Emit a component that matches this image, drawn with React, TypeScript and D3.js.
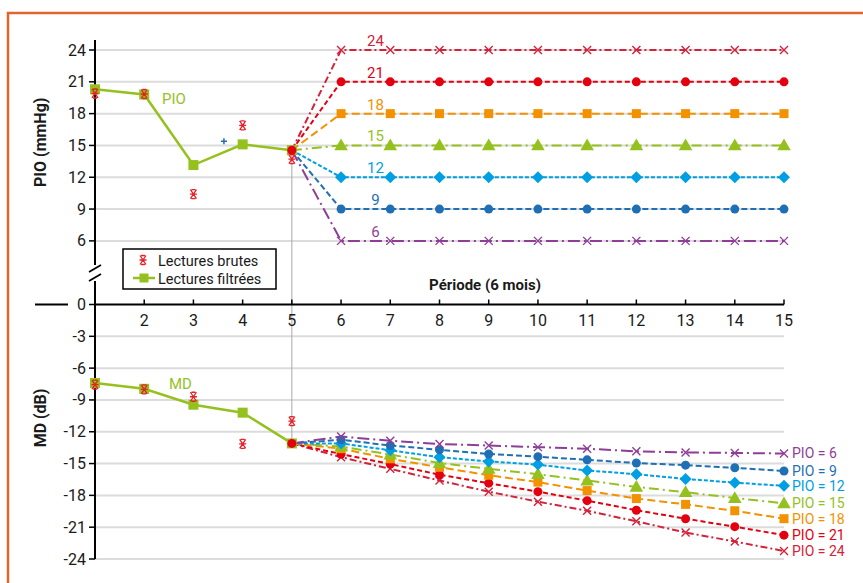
import * as d3 from "d3";

// Périodes et valeurs
const periods = [1, 2, 3, 4, 5];
const futurePeriods = [6, 7, 8, 9, 10, 11, 12, 13, 14, 15];

const pioFiltered = [20.3, 19.8, 13.15, 15.1, 14.55];
const pioRaw = [19.9, 19.85, 10.4, 16.9, 13.7];
const mdFiltered = [-7.4, -7.95, -9.45, -10.2, -13.1];
const mdRaw = [-7.55, -8.0, -8.7, -13.15, -11.0];

const pioTicks = [24, 21, 18, 15, 12, 9, 6];
const mdTicks = [0, -3, -6, -9, -12, -15, -18, -21, -24];
const xTicks = [2, 3, 4, 5, 6, 7, 8, 9, 10, 11, 12, 13, 14, 15];

// Projections : PIO cible -> MD prévue aux périodes 6..15
const targets = [24, 21, 18, 15, 12, 9, 6];
const md24 = [-14.4, -15.5, -16.6, -17.65, -18.6, -19.45, -20.45, -21.5, -22.35, -23.25];
const md21 = [-14.1, -15.05, -16.05, -16.85, -17.65, -18.5, -19.4, -20.2, -20.95, -21.75];
const md18 = [-13.6, -14.55, -15.35, -16.1, -16.75, -17.55, -18.3, -18.85, -19.45, -20.2];
const md15 = [-13.4, -14.15, -14.95, -15.5, -16.0, -16.6, -17.2, -17.7, -18.25, -18.75];
const md12 = [-13.1, -13.75, -14.4, -14.8, -15.1, -15.65, -16.0, -16.45, -16.8, -17.1];
const md9 = [-12.75, -13.3, -13.7, -14.1, -14.35, -14.65, -14.95, -15.15, -15.4, -15.7];
const md6 = [-12.45, -12.85, -13.15, -13.3, -13.45, -13.6, -13.85, -13.95, -14.0, -14.05];
const mdSeries = [md24, md21, md18, md15, md12, md9, md6];

const colors = ["#d3223a", "#e3000f", "#f39200", "#95c11f", "#009fe3", "#1f6fb5", "#8f3e97"];
const dashes = ["7,3,2,3", "5,3", "8,4", "10,4,2,4", "4,2", "6,3", "12,4,2,4"];
const markers = ["x", "circle", "square", "triangle", "diamond", "circle", "x"];

const green = "#95c11f";
const rawRed = "#e8202a";
const font = "Roboto, 'DejaVu Sans', sans-serif";

const x = d3.scaleLinear().domain([1, 15]).range([95, 784]);
const y = d3.scaleLinear().domain([-24, 24]).range([559, 50]);

const Marker = ({ kind, cx, cy, color }: { kind: string; cx: number; cy: number; color: string }) => {
  if (kind === "circle") return <circle cx={cx} cy={cy} r={4.5} fill={color} />;
  if (kind === "square") return <rect x={cx - 4.5} y={cy - 4.5} width={9} height={9} fill={color} />;
  if (kind === "triangle") {
    const p = d3.symbol(d3.symbolTriangle, 80)();
    return <path d={p || ""} transform={`translate(${cx},${cy + 1})`} fill={color} />;
  }
  if (kind === "diamond") {
    return <path d={`M${cx},${cy - 6}L${cx + 6},${cy}L${cx},${cy + 6}L${cx - 6},${cy}Z`} fill={color} />;
  }
  return (
    <path
      d={`M${cx - 4},${cy - 4}L${cx + 4},${cy + 4}M${cx + 4},${cy - 4}L${cx - 4},${cy + 4}`}
      stroke={color}
      strokeWidth={1.4}
      fill="none"
    />
  );
};

const RawMark = ({ cx, cy }: { cx: number; cy: number }) => (
  <path
    d={`M${cx - 3},${cy - 4.5}L${cx + 3},${cy + 4.5}M${cx + 3},${cy - 4.5}L${cx - 3},${cy + 4.5}M${cx - 2},${cy - 4.5}L${cx + 2},${cy - 4.5}M${cx - 2},${cy + 4.5}L${cx + 2},${cy + 4.5}M${cx - 3.5},${cy}L${cx + 3.5},${cy}`}
    stroke={rawRed}
    strokeWidth={1.3}
    fill="none"
  />
);

export default function App() {
  const line = d3
    .line<[number, number]>()
    .x((d) => x(d[0]))
    .y((d) => y(d[1]));

  const pioF: [number, number][] = periods.map((p, i) => [p, pioFiltered[i]]);
  const mdF: [number, number][] = periods.map((p, i) => [p, mdFiltered[i]]);
  const lastPio = pioFiltered[pioFiltered.length - 1];
  const lastMd = mdFiltered[mdFiltered.length - 1];

  const topProj = targets.map((t) => [[5, lastPio], ...futurePeriods.map((p) => [p, t])] as [number, number][]);
  const botProj = mdSeries.map((s) => [[5, lastMd], ...futurePeriods.map((p, i) => [p, s[i]])] as [number, number][]);

  return (
    <svg width={863} height={583} style={{ position: "absolute", left: 0, top: 0, background: "#fff" }} fontFamily={font}>
      <rect x={8} y={13} width={900} height={620} fill="none" stroke="#e0662d" strokeWidth={2.5} />

      {/* grille */}
      {[...pioTicks, ...mdTicks.filter((t) => t !== 0)].map((t) => (
        <line key={"g" + t} x1={x(1)} x2={x(15)} y1={y(t)} y2={y(t)} stroke="#dcdcdc" strokeWidth={2} />
      ))}

      {/* trait vertical période 5 */}
      <line x1={x(5)} x2={x(5)} y1={y(lastPio)} y2={y(lastMd)} stroke="#a8a8a8" strokeWidth={1} />

      {/* axes */}
      <line x1={x(1)} x2={x(1)} y1={40} y2={265} stroke="#000" strokeWidth={2} />
      <line x1={x(1)} x2={x(1)} y1={281} y2={y(-24)} stroke="#000" strokeWidth={2} />
      <line x1={89} x2={101} y1={272} y2={265} stroke="#000" strokeWidth={1.8} />
      <line x1={89} x2={101} y1={281} y2={274} stroke="#000" strokeWidth={1.8} />
      <line x1={x(1)} x2={x(15)} y1={y(0)} y2={y(0)} stroke="#000" strokeWidth={2} />
      <line x1={35} x2={68} y1={y(0)} y2={y(0)} stroke="#000" strokeWidth={2} />

      {[...pioTicks, ...mdTicks].map((t) => (
        <g key={"yt" + t}>
          <line x1={x(1) - 6} x2={x(1)} y1={y(t)} y2={y(t)} stroke="#000" strokeWidth={1.5} />
          <text x={x(1) - 9} y={y(t) + 5.5} textAnchor="end" fontSize={16} fill="#1a1a1a">
            {t}
          </text>
        </g>
      ))}
      {xTicks.map((t) => (
        <g key={"xt" + t}>
          <line x1={x(t)} x2={x(t)} y1={y(0) - 5} y2={y(0)} stroke="#000" strokeWidth={1.5} />
          <text x={x(t)} y={y(0) + 21} textAnchor="middle" fontSize={16} fill="#1a1a1a">
            {t}
          </text>
        </g>
      ))}

      <text transform={`translate(46,${y(15.3)}) rotate(-90)`} textAnchor="middle" fontSize={16} fontWeight="bold" fill="#1a1a1a">
        PIO (mmHg)
      </text>
      <text transform={`translate(46,${y(-10.7)}) rotate(-90)`} textAnchor="middle" fontSize={16} fontWeight="bold" fill="#1a1a1a">
        MD (dB)
      </text>
      <text x={485} y={290} textAnchor="middle" fontSize={15} fontWeight="bold" fill="#1a1a1a">
        Période (6 mois)
      </text>

      {/* projections */}
      {[topProj, botProj].map((group, gi) =>
        group.map((pts, i) => (
          <path
            key={`p${gi}-${i}`}
            d={line(pts) || ""}
            fill="none"
            stroke={colors[i]}
            strokeWidth={2}
            strokeDasharray={dashes[i]}
          />
        ))
      )}
      {[topProj, botProj].map((group, gi) =>
        group.map((pts, i) =>
          pts.slice(1).map((d) => (
            <Marker key={`m${gi}-${i}-${d[0]}`} kind={markers[i]} cx={x(d[0])} cy={y(d[1])} color={colors[i]} />
          ))
        )
      )}

      {/* étiquettes des cibles */}
      {targets.map((t, i) => (
        <text key={"tl" + t} x={x(6.7)} y={y(t) - 4} textAnchor="middle" fontSize={15} fill={colors[i]}>
          {t}
        </text>
      ))}
      {botProj.map((pts, i) => (
        <text key={"bl" + i} x={792} y={y(pts[pts.length - 1][1]) + 5} fontSize={14} fill={colors[i]}>
          {`PIO = ${targets[i]}`}
        </text>
      ))}

      {/* lectures filtrées */}
      {[pioF, mdF].map((pts, gi) => (
        <g key={"f" + gi}>
          <path d={line(pts) || ""} fill="none" stroke={green} strokeWidth={2.5} />
          {pts.map((d) => (
            <rect key={d[0]} x={x(d[0]) - 5} y={y(d[1]) - 5} width={10} height={10} fill={green} />
          ))}
        </g>
      ))}

      {/* lectures brutes */}
      {periods.map((p, i) => (
        <g key={"r" + p}>
          <RawMark cx={x(p)} cy={y(pioRaw[i])} />
          <RawMark cx={x(p)} cy={y(mdRaw[i])} />
        </g>
      ))}
      <path
        d={`M${x(3.62) - 3},${y(15.4)}H${x(3.62) + 3}M${x(3.62)},${y(15.4) - 3}V${y(15.4) + 3}`}
        stroke="#1f6fb5"
        strokeWidth={1.5}
      />

      {/* point de départ des projections */}
      <circle cx={x(5)} cy={y(lastPio)} r={4.5} fill="#e3000f" />
      <circle cx={x(5)} cy={y(lastMd)} r={4.5} fill="#e3000f" />

      <text x={162} y={104} fontSize={15} fill={green}>
        PIO
      </text>
      <text x={169} y={389} fontSize={15} fill={green}>
        MD
      </text>

      {/* légende */}
      <rect x={123} y={249} width={153} height={40} fill="#fff" stroke="#000" strokeWidth={1.5} />
      <RawMark cx={143} cy={260} />
      <text x={158} y={265.5} fontSize={14.5} fill="#1a1a1a">
        Lectures brutes
      </text>
      <line x1={133} x2={155} y1={278} y2={278} stroke={green} strokeWidth={2.5} />
      <rect x={139.5} y={273.5} width={9} height={9} fill={green} />
      <text x={158} y={283.5} fontSize={14.5} fill="#1a1a1a">
        Lectures filtrées
      </text>
    </svg>
  );
}
